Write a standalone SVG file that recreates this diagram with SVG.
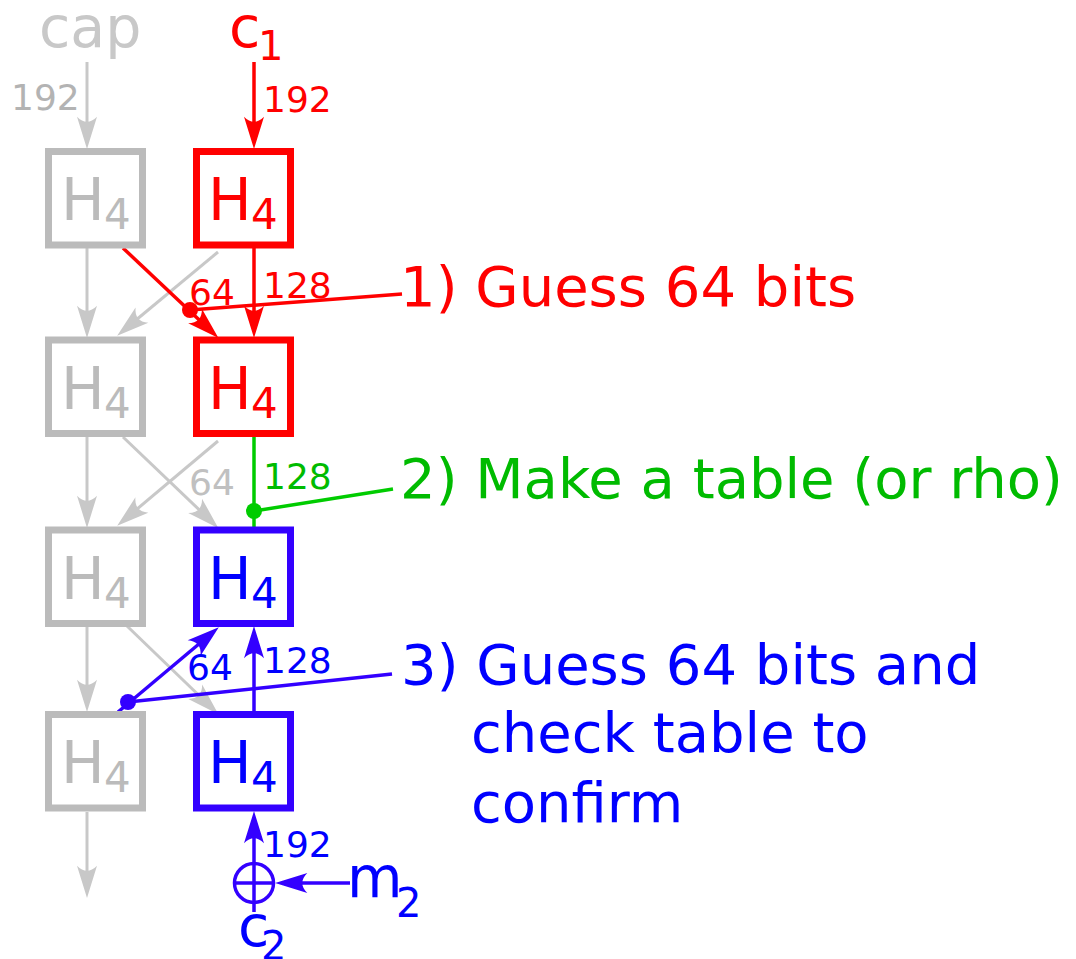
<svg xmlns="http://www.w3.org/2000/svg" width="1076" height="959" viewBox="0 0 1076 959">
<style>
text{font-family:"DejaVu Sans","Liberation Sans",sans-serif}
.box{fill:none;stroke-width:7}
.g{fill:#bbbbbb}.r{fill:#ff0000}.b{fill:#0000ff}.gr{fill:#00bb00}
.H{font-size:58px}.sub{font-size:42px}.lab{font-size:36px}.big{font-size:56px}.var{font-size:57px}.vs{font-size:40px}
.lg{stroke:#c8c8c8;stroke-width:3;fill:none}
.lr{stroke:#ff0000;stroke-width:3.5;fill:none}
.lb{stroke:#3300ff;stroke-width:3.5;fill:none}
.lgr{stroke:#00cc00;stroke-width:3.5;fill:none}
</style>
<defs>
<marker id="ag" markerUnits="userSpaceOnUse" markerWidth="40" markerHeight="40" viewBox="-25 -12 36 24" refX="0" refY="0" orient="auto" overflow="visible"><path d="M8,0 L-21,-9 C-15,-3 -15,3 -21,9 Z" fill="#c8c8c8"/></marker>
<marker id="ar" markerUnits="userSpaceOnUse" markerWidth="40" markerHeight="40" viewBox="-25 -12 36 24" refX="0" refY="0" orient="auto" overflow="visible"><path d="M8,0 L-21,-9 C-15,-3 -15,3 -21,9 Z" fill="#ff0000"/></marker>
<marker id="ab" markerUnits="userSpaceOnUse" markerWidth="40" markerHeight="40" viewBox="-25 -12 36 24" refX="0" refY="0" orient="auto" overflow="visible"><path d="M8,0 L-21,-9 C-15,-3 -15,3 -21,9 Z" fill="#3300ff"/></marker>
</defs>

<g id="connectors">
<!-- gray -->
<line class="lg" x1="87" y1="62" x2="87" y2="140" marker-end="url(#ag)"/>
<line class="lg" x1="87" y1="248" x2="87" y2="329" marker-end="url(#ag)"/>
<line class="lg" x1="218" y1="252" x2="124" y2="330" marker-end="url(#ag)"/>
<line class="lg" x1="87" y1="437" x2="87" y2="519" marker-end="url(#ag)"/>
<line class="lg" x1="123" y1="437" x2="212" y2="522" marker-end="url(#ag)"/>
<line class="lg" x1="218" y1="441" x2="124" y2="520" marker-end="url(#ag)"/>
<line class="lg" x1="87" y1="627" x2="87" y2="703" marker-end="url(#ag)"/>
<line class="lg" x1="127" y1="626" x2="212" y2="708" marker-end="url(#ag)"/>
<line class="lg" x1="87" y1="812" x2="87" y2="889" marker-end="url(#ag)"/>
<!-- red -->
<line class="lr" x1="254" y1="62" x2="254" y2="140" marker-end="url(#ar)"/>
<line class="lr" x1="254" y1="248" x2="254" y2="329" marker-end="url(#ar)"/>
<line class="lr" x1="123" y1="248" x2="212" y2="332" marker-end="url(#ar)"/>
<line class="lr" x1="190" y1="310" x2="402" y2="294"/>
<circle cx="190" cy="310" r="8" fill="#ff0000"/>
<!-- green -->
<line class="lgr" x1="254" y1="437" x2="254" y2="527"/>
<line class="lgr" x1="254" y1="511" x2="393" y2="489"/>
<circle cx="254" cy="511" r="8" fill="#00cc00"/>
<!-- blue -->
<line class="lb" x1="254" y1="711" x2="254" y2="635" marker-end="url(#ab)"/>
<line class="lb" x1="118" y1="712" x2="212" y2="633" marker-end="url(#ab)"/>
<line class="lb" x1="128" y1="702" x2="392" y2="674"/>
<circle cx="128" cy="702" r="8" fill="#3300ff"/>
<line class="lb" x1="254" y1="912" x2="254" y2="820" marker-end="url(#ab)"/>
<circle class="lb" cx="254" cy="883" r="19.5"/>
<line class="lb" x1="234" y1="883" x2="274" y2="883"/>
<line class="lb" x1="350" y1="883" x2="284" y2="883" marker-end="url(#ab)"/>
</g>

<g id="labels">
<text class="lab" x="11" y="110" fill="#b3b3b3">192</text>
<text class="lab r" x="263" y="112">192</text>
<text class="lab r" x="189" y="305">64</text>
<text class="lab r" x="263" y="298">128</text>
<text class="lab" x="189" y="495" fill="#c0c0c0">64</text>
<text class="lab gr" x="263" y="489">128</text>
<text class="lab b" x="187" y="680">64</text>
<text class="lab b" x="263" y="673">128</text>
<text class="lab b" x="263" y="857">192</text>
</g>

<g id="inputs">
<text class="var" x="39" y="47" fill="#c8c8c8">cap</text>
<text class="var r" x="229" y="47">c</text><text class="vs r" x="258" y="60">1</text>
<text class="var b" x="347" y="897">m</text><text class="vs b" x="396" y="917">2</text>
<text class="var b" x="238" y="946">c</text><text class="vs b" x="261" y="960">2</text>
</g>

<g id="h-g1"><rect class="box" x="48.5" y="151.5" width="94" height="93.5" stroke="#bbbbbb"/><text class="H g" x="61" y="220">H</text><text class="sub g" x="104" y="229">4</text></g>
<g id="h-g2"><rect class="box" x="48.5" y="340" width="94" height="93.5" stroke="#bbbbbb"/><text class="H g" x="61" y="409">H</text><text class="sub g" x="104" y="418">4</text></g>
<g id="h-g3"><rect class="box" x="48.5" y="530" width="94" height="93.5" stroke="#bbbbbb"/><text class="H g" x="61" y="599">H</text><text class="sub g" x="104" y="608">4</text></g>
<g id="h-g4"><rect class="box" x="48.5" y="714.5" width="94" height="93.5" stroke="#bbbbbb"/><text class="H g" x="61" y="783">H</text><text class="sub g" x="104" y="792">4</text></g>

<g id="h-r1"><rect class="box" x="196.5" y="151.5" width="94" height="93.5" stroke="#ff0000"/><text class="H r" x="208" y="220">H</text><text class="sub r" x="251" y="229">4</text></g>
<g id="h-r2"><rect class="box" x="196.5" y="340" width="94" height="93.5" stroke="#ff0000"/><text class="H r" x="208" y="409">H</text><text class="sub r" x="251" y="418">4</text></g>
<g id="h-b3"><rect class="box" x="196.5" y="530" width="94" height="93.5" stroke="#3300ff"/><text class="H b" x="208" y="599">H</text><text class="sub b" x="251" y="608">4</text></g>
<g id="h-b4"><rect class="box" x="196.5" y="714.5" width="94" height="93.5" stroke="#3300ff"/><text class="H b" x="208" y="783">H</text><text class="sub b" x="251" y="792">4</text></g>

<g id="step1"><text class="big r" x="400" y="306">1) Guess 64 bits</text></g>
<g id="step2"><text class="big gr" x="400" y="498">2) Make a table (or rho)</text></g>
<g id="step3"><text class="big b" x="401" y="684">3) Guess 64 bits and</text><text class="big b" x="471" y="752">check table to</text><text class="big b" x="471" y="822">confirm</text></g>
</svg>
